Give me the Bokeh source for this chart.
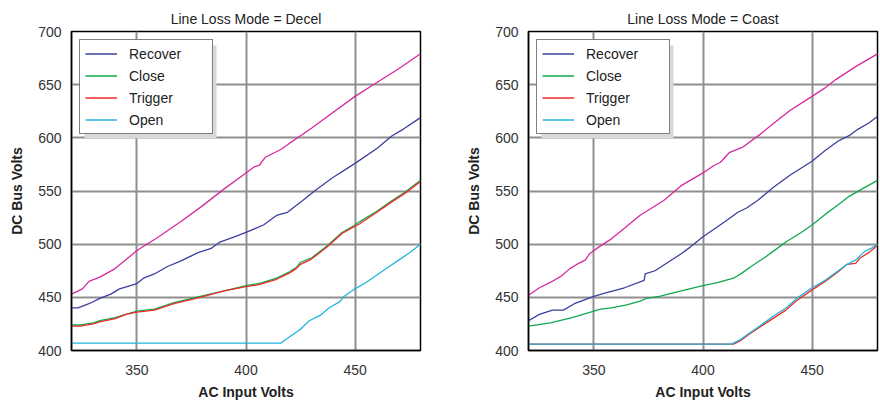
from bokeh.plotting import figure
from bokeh.layouts import row
from bokeh.models import Range1d, FixedTicker, Legend, LegendItem, BoxAnnotation
from bokeh.embed import file_html
from bokeh.resources import INLINE

# ---------------- data: Line Loss Mode = Decel ----------------
decel_peak_x = [320, 325, 328, 333, 340, 350, 360, 370, 380, 390, 400, 404, 406, 409, 412, 416, 420, 425, 430, 440, 450, 460, 470, 480]
decel_peak_y = [453, 458, 465, 469, 477, 494, 507, 521, 536, 552, 567, 573, 574, 582, 585, 589, 595, 602, 609, 624, 639, 652, 665, 679]

decel_recover_x = [320, 323, 328, 333, 338, 342, 347, 350, 353, 358, 364, 370, 374, 378, 384, 388, 395, 400, 408, 414, 419, 426, 432, 440, 450, 460, 467, 472, 480]
decel_recover_y = [440, 440, 444, 449, 453, 458, 461, 463, 468, 472, 479, 484, 488, 492, 496, 502, 507, 511, 518, 527, 530, 541, 551, 563, 576, 590, 602, 608, 619]

decel_close_x = [320, 324, 330, 333, 340, 345, 350, 358, 367, 379, 390, 400, 406, 414, 420, 423, 425, 430, 437, 444, 450, 452, 460, 467, 473, 480]
decel_close_y = [424, 424, 426, 428, 431, 434, 437, 439, 445, 451, 456, 461, 463, 468, 474, 478, 483, 487, 498, 511, 518, 521, 531, 541, 549, 560]

decel_trigger_x = [320, 324, 330, 333, 340, 345, 350, 358, 367, 379, 390, 400, 406, 414, 420, 423, 425, 430, 437, 444, 450, 452, 460, 467, 473, 480]
decel_trigger_y = [423, 423, 425, 427, 430, 434, 436, 438, 444, 450, 456, 460, 462, 467, 473, 477, 481, 486, 497, 510, 517, 519, 530, 540, 548, 559]

decel_open_x = [320, 350, 400, 416, 420, 425, 429, 434, 438, 443, 445, 450, 455, 460, 465, 470, 475, 480]
decel_open_y = [407, 407, 407, 407, 413, 420, 428, 433, 440, 446, 451, 458, 464, 471, 478, 485, 492, 500]

# ---------------- data: Line Loss Mode = Coast ----------------
coast_peak_x = [320, 325, 330, 335, 339, 343, 346, 348, 352, 358, 364, 371, 382, 390, 400, 405, 408, 412, 418, 426, 432, 440, 450, 456, 461, 470, 480]
coast_peak_y = [452, 459, 464, 470, 477, 482, 485, 491, 497, 505, 515, 527, 541, 555, 567, 574, 577, 586, 591, 603, 613, 626, 639, 647, 655, 667, 679]

coast_recover_x = [320, 325, 331, 333, 336, 341, 350, 355, 364, 373, 373.5, 378, 384, 390, 394, 400, 405, 410, 416, 420, 425, 432, 440, 450, 456, 462, 467, 471, 476, 480]
coast_recover_y = [428, 434, 438, 438, 438, 444, 451, 454, 459, 466, 472, 475, 483, 491, 497, 507, 514, 521, 530, 534, 541, 553, 565, 578, 588, 597, 602, 608, 614, 620]

coast_close_x = [320, 330, 340, 345, 350, 353, 358, 365, 372, 374, 380, 390, 400, 407, 414, 418, 422, 428, 432, 438, 445, 450, 456, 462, 467, 473, 480]
coast_close_y = [423, 426, 431, 434, 437, 439, 440, 443, 447, 449, 451, 456, 461, 464, 468, 473, 479, 487, 493, 502, 511, 518, 528, 537, 545, 552, 560]

coast_trigger_x = [320, 350, 400, 414, 417, 421, 426, 432, 438, 443, 450, 456, 462, 466, 470, 472, 476, 480]
coast_trigger_y = [406, 406, 406, 406, 409, 415, 422, 430, 438, 447, 457, 465, 474, 481, 482, 487, 492, 499]

coast_open_x = [320, 350, 400, 413, 417, 421, 426, 432, 438, 443, 450, 456, 462, 466, 470, 474, 477, 480]
coast_open_y = [406, 406, 406, 406, 410, 416, 423, 432, 440, 449, 459, 466, 475, 481, 485, 493, 496, 500]

x_ticks = [350, 400, 450]
y_ticks = [400, 450, 500, 550, 600, 650, 700]
series_names = ["Recover", "Close", "Trigger", "Open"]
series_colors = ["#3a3f9e", "#10a84e", "#ee2b2b", "#20b6da"]
peak_color = "#d42a9e"

FONT = "Liberation Sans"
X0, X1, Y0, Y1 = 320, 480, 400, 700
FRAME_W, FRAME_H = 349, 319


def px_to_x(px):
    return X0 + px * (X1 - X0) / FRAME_W


def px_to_y(py_from_top):
    return Y1 - py_from_top * (Y1 - Y0) / FRAME_H


def make_panel(title, peak, series, width, border_left, border_right):
    p = figure(width=width, height=404, output_backend="svg", toolbar_location=None,
               x_range=Range1d(X0, X1), y_range=Range1d(Y0, Y1),
               min_border_left=border_left, min_border_right=border_right,
               min_border_top=31, min_border_bottom=54)
    p.title.text = title
    p.title.align = "center"
    p.title.text_font = FONT
    p.title.text_font_size = "14px"
    p.title.text_font_style = "normal"
    p.title.text_color = "#222222"
    p.title.standoff = 9

    p.outline_line_color = "black"
    p.outline_line_width = 1.5
    p.outline_line_alpha = 1.0

    for ax in (p.xaxis[0], p.yaxis[0]):
        ax.major_tick_out = 0
        ax.major_tick_in = 0
        ax.minor_tick_out = 0
        ax.minor_tick_in = 0
        ax.axis_line_color = "black"
        ax.axis_line_width = 1.5
        ax.major_label_text_font = FONT
        ax.major_label_text_font_size = "14px"
        ax.major_label_text_color = "#333333"
        ax.axis_label_text_font = FONT
        ax.axis_label_text_font_size = "14px"
        ax.axis_label_text_font_style = "bold"
        ax.axis_label_text_color = "#222222"
    p.xaxis.ticker = FixedTicker(ticks=x_ticks)
    p.yaxis.ticker = FixedTicker(ticks=y_ticks)
    p.xaxis.axis_label = "AC Input Volts"
    p.yaxis.axis_label = "DC Bus Volts"
    p.xaxis.major_label_standoff = 14
    p.yaxis.major_label_standoff = 10
    p.xaxis.axis_label_standoff = 6
    p.yaxis.axis_label_standoff = 10

    p.xgrid.ticker = FixedTicker(ticks=x_ticks)
    p.ygrid.ticker = FixedTicker(ticks=y_ticks)
    for g in (p.xgrid[0], p.ygrid[0]):
        g.grid_line_color = "#8f8f8f"
        g.grid_line_width = 2

    # legend drop shadow (decoration placed just behind the legend box)
    shadow = BoxAnnotation(left=px_to_x(13), right=px_to_x(145),
                           top=px_to_y(14), bottom=px_to_y(107),
                           fill_color="#d8d8d8", fill_alpha=1.0, line_alpha=0)
    p.add_layout(shadow)

    px, py = peak
    p.line(px, py, line_color=peak_color, line_width=1.3)

    items = []
    for name, color, (sx, sy) in zip(series_names, series_colors, series):
        r = p.line(sx, sy, line_color=color, line_width=1.3)
        items.append(LegendItem(label=name, renderers=[r]))

    legend = Legend(items=items, location="top_left", margin=8, padding=5,
                    spacing=5, glyph_width=32, glyph_height=17, label_height=17,
                    label_width=78, label_standoff=12,
                    label_text_font=FONT, label_text_font_size="14px",
                    label_text_color="#222222",
                    border_line_color="black", border_line_width=1.5,
                    background_fill_color="white", background_fill_alpha=1.0)
    p.add_layout(legend)
    return p


p1 = make_panel("Line Loss Mode = Decel",
                (decel_peak_x, decel_peak_y),
                [(decel_recover_x, decel_recover_y), (decel_close_x, decel_close_y),
                 (decel_trigger_x, decel_trigger_y), (decel_open_x, decel_open_y)],
                width=440, border_left=71, border_right=20)
p2 = make_panel("Line Loss Mode = Coast",
                (coast_peak_x, coast_peak_y),
                [(coast_recover_x, coast_recover_y), (coast_close_x, coast_close_y),
                 (coast_trigger_x, coast_trigger_y), (coast_open_x, coast_open_y)],
                width=439, border_left=88, border_right=2)

layout = row(p1, p2)
open("out.html", "w").write(file_html(layout, INLINE))
